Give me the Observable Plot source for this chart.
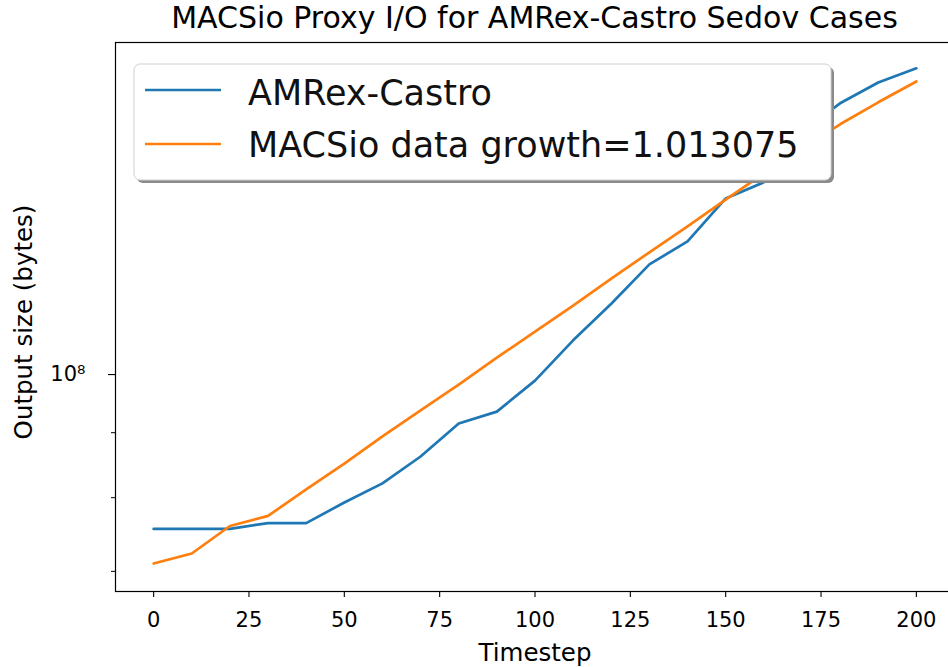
<!DOCTYPE html>
<html>
<head>
<meta charset="utf-8">
<script src="https://cdn.jsdelivr.net/npm/d3@7"></script>
<script src="https://cdn.jsdelivr.net/npm/@observablehq/plot@0.6"></script>
<style>
  body { margin: 0; background: #fff; }
  #wrap { position: relative; width: 948px; height: 667px; overflow: hidden; background: #fff; font-family: "DejaVu Sans", sans-serif; color: #000; }
  #title { position: absolute; left: 115px; width: 839px; top: 3px; text-align: center; font-size: 30px; line-height: 1; white-space: nowrap; }
  #chart { position: absolute; left: 0; top: 40px; }
  #legend { position: absolute; left: 0; top: 0; pointer-events: none; }
</style>
</head>
<body>
<div id="wrap">
  <div id="title"></div>
  <div id="chart"></div>
</div>
<script>
const chartTitle = "MACSio Proxy I/O for AMRex-Castro Sedov Cases";
const xLabel = "Timestep";
const yLabel = "Output size (bytes)";
const seriesNames = ["AMRex-Castro", "MACSio data growth=1.013075"];
const seriesColors = ["#1f77b4", "#ff7f0e"];

const timesteps = [0, 10, 20, 30, 40, 50, 60, 70, 80, 90, 100, 110, 120, 130, 140, 150, 160, 170, 180, 190, 200];
const castroBytes = [7.56e7, 7.56e7, 7.56e7, 7.64e7, 7.64e7, 7.93e7, 8.21e7, 8.62e7, 9.15e7, 9.35e7, 9.89e7,
  1.064e8, 1.137e8, 1.221e8, 1.273e8, 1.376e8, 1.417e8, 1.554e8, 1.635e8, 1.698e8, 1.742e8];
const macsioBytes = [7.10e7, 7.23e7, 7.60e7, 7.74e7, 8.12e7, 8.51e7, 8.94e7, 9.37e7, 9.82e7, 1.031e8, 1.081e8,
  1.133e8, 1.190e8, 1.248e8, 1.308e8, 1.373e8, 1.440e8, 1.506e8, 1.574e8, 1.638e8, 1.701e8];

const xTicks = [0, 25, 50, 75, 100, 125, 150, 175, 200];
const yMajorTicks = [1e8];
const yMajorTickLabels = ["10⁸"];
const yMinorTicks = [7e7, 8e7, 9e7];

const castroData = timesteps.map((t, i) => ({t, v: castroBytes[i]}));
const macsioData = timesteps.map((t, i) => ({t, v: macsioBytes[i]}));

document.getElementById("title").textContent = chartTitle;

const W = 948, H = 627;
const chart = Plot.plot({
  width: W,
  height: H,
  marginLeft: 115,
  marginRight: -6,
  marginTop: 2,
  marginBottom: 76,
  style: {fontFamily: "DejaVu Sans, sans-serif", fontSize: "21px", background: "white", color: "black", overflow: "visible"},
  x: {domain: [-10, 210], range: [115, 954]},
  y: {type: "log", domain: [6.749e7, 1.8255e8], range: [551, 2]},
  marks: [
    Plot.line(castroData, {x: "t", y: "v", stroke: seriesColors[0], strokeWidth: 2.7}),
    Plot.line(macsioData, {x: "t", y: "v", stroke: seriesColors[1], strokeWidth: 2.7}),
    Plot.frame({stroke: "black", strokeWidth: 1.2}),
    Plot.axisX({ticks: xTicks, tickSize: 6, tickPadding: 15, fontSize: 21, label: null, tickFormat: d => String(d), strokeWidth: 1.1}),
    Plot.axisY({ticks: yMajorTicks, tickSize: 7, tickPadding: 23, fontSize: 21, label: null,
      tickFormat: d => yMajorTickLabels[yMajorTicks.indexOf(d)], strokeWidth: 1.1}),
    Plot.axisY({ticks: yMinorTicks, tickSize: 4, label: null, tickFormat: () => "", strokeWidth: 1}),
    Plot.text([xLabel], {text: d => d, frameAnchor: "bottom", textAnchor: "middle", lineAnchor: "middle", dy: 62, fontSize: 24.5, fill: "black"}),
    Plot.text([yLabel], {text: d => d, frameAnchor: "left", textAnchor: "middle", lineAnchor: "middle", rotate: -90, dx: -91, dy: 5, fontSize: 24.5, fill: "black"})
  ]
});
document.getElementById("chart").appendChild(chart);

// Legend overlay (matplotlib-style, with shadow)
const wrap = d3.select("#wrap");
const lg = wrap.append("svg").attr("id", "legend").attr("width", W).attr("height", 667);
const box = {x: 134, y: 64, w: 697, h: 116};
lg.append("rect").attr("x", box.x + 3).attr("y", box.y + 3).attr("width", box.w).attr("height", box.h)
  .attr("rx", 6).attr("fill", "#8a8a8a");
lg.append("rect").attr("x", box.x).attr("y", box.y).attr("width", box.w).attr("height", box.h)
  .attr("rx", 6).attr("fill", "white").attr("stroke", "#d0d0d0").attr("stroke-width", 1);
const rowY = [90, 144];
const baseY = [105, 157];
seriesNames.forEach((name, i) => {
  lg.append("line").attr("x1", 145).attr("x2", 221).attr("y1", rowY[i]).attr("y2", rowY[i])
    .attr("stroke", seriesColors[i]).attr("stroke-width", 2.7);
  lg.append("text").attr("x", 248).attr("y", baseY[i]).attr("font-size", 35)
    .attr("font-family", "DejaVu Sans, sans-serif").attr("fill", "#111").text(name);
});
</script>
</body>
</html>
